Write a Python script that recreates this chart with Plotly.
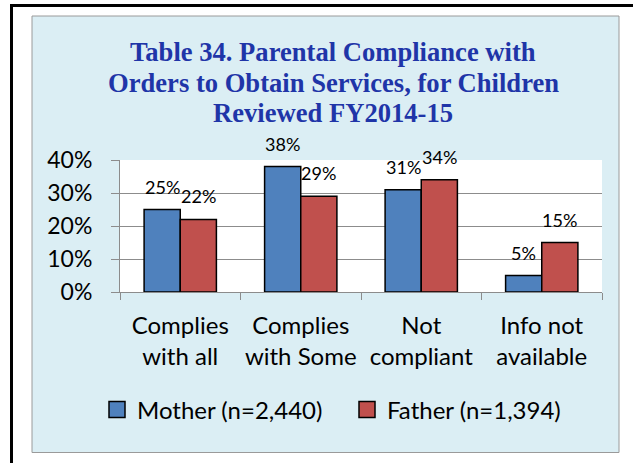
import plotly.graph_objects as go

categories = ["Complies<br>with all", "Complies<br>with Some", "Not<br>compliant", "Info not<br>available"]
mother = [25, 38, 31, 5]
father = [22, 29, 34, 15]
series_names = ["Mother (n=2,440)", "Father (n=1,394)"]
colors = ["#4F81BD", "#C0504D"]
title_lines = ["Table 34. Parental Compliance with",
               "Orders to Obtain Services, for Children",
               "Reviewed FY2014-15"]

W, H = 633, 463
L, R, T, B = 120, 602, 160, 292  # plot area in px
FONT = "Lato"

def px_x(p):
    return (p - L) / (R - L)

def px_y(p):
    return (B - p) / (B - T)

fig = go.Figure()
for name, vals, col in zip(series_names, (mother, father), colors):
    fig.add_trace(go.Bar(
        x=categories, y=vals, name=name, showlegend=False, legendgroup=name,
        marker=dict(color=col, line=dict(color="black", width=1.5)),
    ))
# legend entries with larger square swatches
for name, col in zip(series_names, colors):
    fig.add_trace(go.Scatter(
        x=[None], y=[None], name=name, mode="markers", legendgroup=name,
        marker=dict(symbol="square", size=16, color=col, line=dict(color="black", width=1.5)),
    ))

# data labels centred above each bar
for vals, shift in ((mother, -18), (father, 18)):
    for c, v in zip(categories, vals):
        fig.add_annotation(x=c, y=v, xref="x", yref="y", text=f"{v}%",
                           showarrow=False, xshift=shift, yshift=23,
                           xanchor="center", yanchor="middle",
                           font=dict(size=18, family=FONT, color="black"))

fig.update_layout(
    width=W, height=H,
    margin=dict(l=L, r=W - R, t=T, b=H - B, pad=0),
    paper_bgcolor="white", plot_bgcolor="white",
    barmode="group", bargap=0.4, bargroupgap=0,
    showlegend=True,
    legend=dict(orientation="h", x=px_x(97), xanchor="left", y=px_y(410), yanchor="middle",
                font=dict(size=24, family=FONT, color="black"), bgcolor="rgba(0,0,0,0)",
                itemwidth=30, traceorder="normal", entrywidth=205, entrywidthmode="pixels"),
    font=dict(family=FONT, color="black"),
)
fig.update_yaxes(
    range=[0, 40], tickvals=[0, 10, 20, 30, 40], ticktext=["0%", "10%", "20%", "30%", "40%"],
    showgrid=True, gridcolor="#8C8C8C", gridwidth=1,
    showline=True, linecolor="#8C8C8C", linewidth=1,
    ticks="outside", ticklen=8, tickcolor="#8C8C8C", ticklabelstandoff=14,
    tickfont=dict(size=23, family=FONT, color="black"), zeroline=False,
)
fig.update_xaxes(
    showline=True, linecolor="#8C8C8C", linewidth=1,
    ticks="outside", ticklen=7, tickcolor="#8C8C8C", tickson="boundaries",
    ticklabelstandoff=12, tickangle=0,
    tickfont=dict(size=24, family=FONT, color="black"),
)

# background panel and outer border
fig.add_shape(type="rect", xref="paper", yref="paper", layer="below",
              x0=px_x(32), x1=px_x(619), y0=px_y(452.5), y1=px_y(16),
              fillcolor="#DBEEF4", line=dict(color="#9A9A9A", width=1))
fig.add_shape(type="rect", xref="paper", yref="paper", layer="below",
              x0=0, x1=1, y0=0, y1=1, fillcolor="white", line=dict(width=0))
fig.add_shape(type="rect", xref="paper", yref="paper", layer="above",
              x0=px_x(11.5), x1=px_x(660), y0=px_y(490), y1=px_y(5.5),
              fillcolor="rgba(0,0,0,0)", line=dict(color="black", width=3))

for line, ypx in zip(title_lines, (52, 83, 113)):
    fig.add_annotation(text=f"<b>{line}</b>", xref="paper", yref="paper",
                       x=px_x(333), y=px_y(ypx), xanchor="center", yanchor="middle",
                       showarrow=False, align="center",
                       font=dict(family="Liberation Serif", size=26.6, color="#1F35A8"))

fig.write_html("out.html", config={"displayModeBar": False},
               post_script="document.body.style.margin='0';document.body.style.overflow='hidden';")
